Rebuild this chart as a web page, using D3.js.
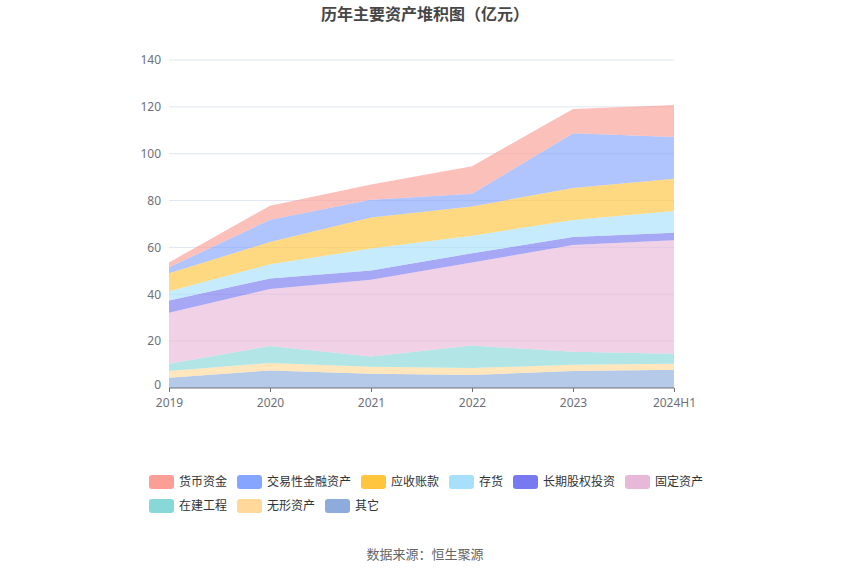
<!DOCTYPE html>
<html>
<head>
<meta charset="utf-8">
<script src="https://cdn.jsdelivr.net/npm/d3@7/dist/d3.min.js"></script>
<style>
  body { margin: 0; background: #fff; }
  svg { font-family: "Noto Sans CJK SC", "Noto Sans", sans-serif; }
</style>
</head>
<body>
<div id="chart"></div>
<script>
var years = ["2019", "2020", "2021", "2022", "2023", "2024H1"];
var seriesNames = ["其它", "无形资产", "在建工程", "固定资产", "长期股权投资", "存货", "应收账款", "交易性金融资产", "货币资金"];
var other        = [4.4, 7.5, 6.1, 5.5, 7.3, 7.8];
var intangible   = [2.9, 3.2, 3.0, 3.0, 2.6, 2.6];
var construction = [3.1, 7.2, 4.3, 9.6, 5.6, 4.2];
var fixed        = [21.7, 24.4, 32.8, 35.5, 45.5, 48.5];
var ltEquity     = [5.3, 4.4, 4.0, 3.9, 3.4, 3.2];
var inventory    = [3.9, 6.1, 9.3, 7.5, 7.3, 9.2];
var receivables  = [7.7, 9.5, 13.3, 12.5, 13.7, 13.8];
var trading      = [2.5, 9.5, 7.6, 5.4, 23.3, 17.8];
var cash         = [2.1, 6.0, 6.5, 11.8, 10.4, 13.7];
var yTicks = [0, 20, 40, 60, 80, 100, 120, 140];
var legendOrder = ["货币资金", "交易性金融资产", "应收账款", "存货", "长期股权投资", "固定资产", "在建工程", "无形资产", "其它"];

function init() {
  var w = 850, h = 575;
  var left = 169, right = 674, top = 60, bottom = 388;

  var colors = {
    "货币资金": "#fa9e96", "交易性金融资产": "#86a5fe", "应收账款": "#ffc53d",
    "存货": "#a8e0fb", "长期股权投资": "#7879f0", "固定资产": "#e8b8d8",
    "在建工程": "#88d8d8", "无形资产": "#ffd89a", "其它": "#8eacdb"
  };
  var values = [other, intangible, construction, fixed, ltEquity, inventory, receivables, trading, cash];

  var rows = years.map(function(y, i) {
    var r = { year: y };
    seriesNames.forEach(function(n, k) { r[n] = values[k][i]; });
    return r;
  });

  var stack = d3.stack().keys(seriesNames);
  var layers = stack(rows);

  var x = d3.scalePoint().domain(years).range([left, right]);
  var y = d3.scaleLinear().domain([0, 140]).range([bottom, top]);

  var svg = d3.select("#chart").append("svg")
    .attr("width", w).attr("height", h);

  svg.append("text")
    .attr("x", w / 2).attr("y", 20)
    .attr("text-anchor", "middle")
    .attr("font-size", 16).attr("font-weight", "bold")
    .attr("fill", "#464646")
    .text("历年主要资产堆积图（亿元）");

  svg.append("g").selectAll("line")
    .data(yTicks.filter(function(t) { return t > 0; }))
    .enter().append("line")
    .attr("x1", left).attr("x2", right)
    .attr("y1", function(d) { return y(d); })
    .attr("y2", function(d) { return y(d); })
    .attr("stroke", "#e0e6f1");

  var area = d3.area()
    .x(function(d) { return x(d.data.year); })
    .y0(function(d) { return y(d[0]); })
    .y1(function(d) { return y(d[1]); });

  svg.append("g").selectAll("path")
    .data(layers)
    .enter().append("path")
    .attr("fill", function(d) { return colors[d.key]; })
    .attr("fill-opacity", 0.65)
    .attr("d", area);

  var yAxis = d3.axisLeft(y).tickValues(yTicks).tickSize(0).tickPadding(8);
  var gy = svg.append("g").attr("transform", "translate(" + left + ",0)").call(yAxis);
  gy.select(".domain").remove();
  gy.selectAll("text").attr("fill", "#6e7079").attr("font-size", 12)
    .attr("font-family", "Noto Sans, sans-serif");
  // lift the "0" label a little so it clears the first x label
  gy.selectAll(".tick").filter(function(d) { return d === 0; })
    .select("text").attr("dy", "0em");

  var xAxis = d3.axisBottom(x).tickSize(4).tickPadding(6);
  var gx = svg.append("g").attr("transform", "translate(0," + bottom + ")").call(xAxis);
  gx.select(".domain").attr("stroke", "#6e7079").attr("d", "M" + left + ",0H" + right);
  gx.selectAll("line").attr("stroke", "#6e7079");
  gx.selectAll("text").attr("fill", "#6e7079").attr("font-size", 12)
    .attr("font-family", "Noto Sans, sans-serif");

  // legend
  var lg = svg.append("g").attr("font-size", 12);
  var lx = 149, ly = 482, maxX = 710;
  legendOrder.forEach(function(n) {
    var tw = n.length * 12;
    var itemW = 25 + 5 + tw;
    if (lx + itemW > maxX) { lx = 149; ly += 24; }
    lg.append("rect")
      .attr("x", lx).attr("y", ly - 7).attr("width", 25).attr("height", 14)
      .attr("rx", 3).attr("fill", colors[n]);
    lg.append("text")
      .attr("x", lx + 30).attr("y", ly + 4)
      .attr("fill", "#333").text(n);
    lx += itemW + 10;
  });

  svg.append("text")
    .attr("x", w / 2).attr("y", 559)
    .attr("text-anchor", "middle")
    .attr("font-size", 13).attr("fill", "#666")
    .text("数据来源：恒生聚源");
}

window.onload = init;
</script>
</body>
</html>
